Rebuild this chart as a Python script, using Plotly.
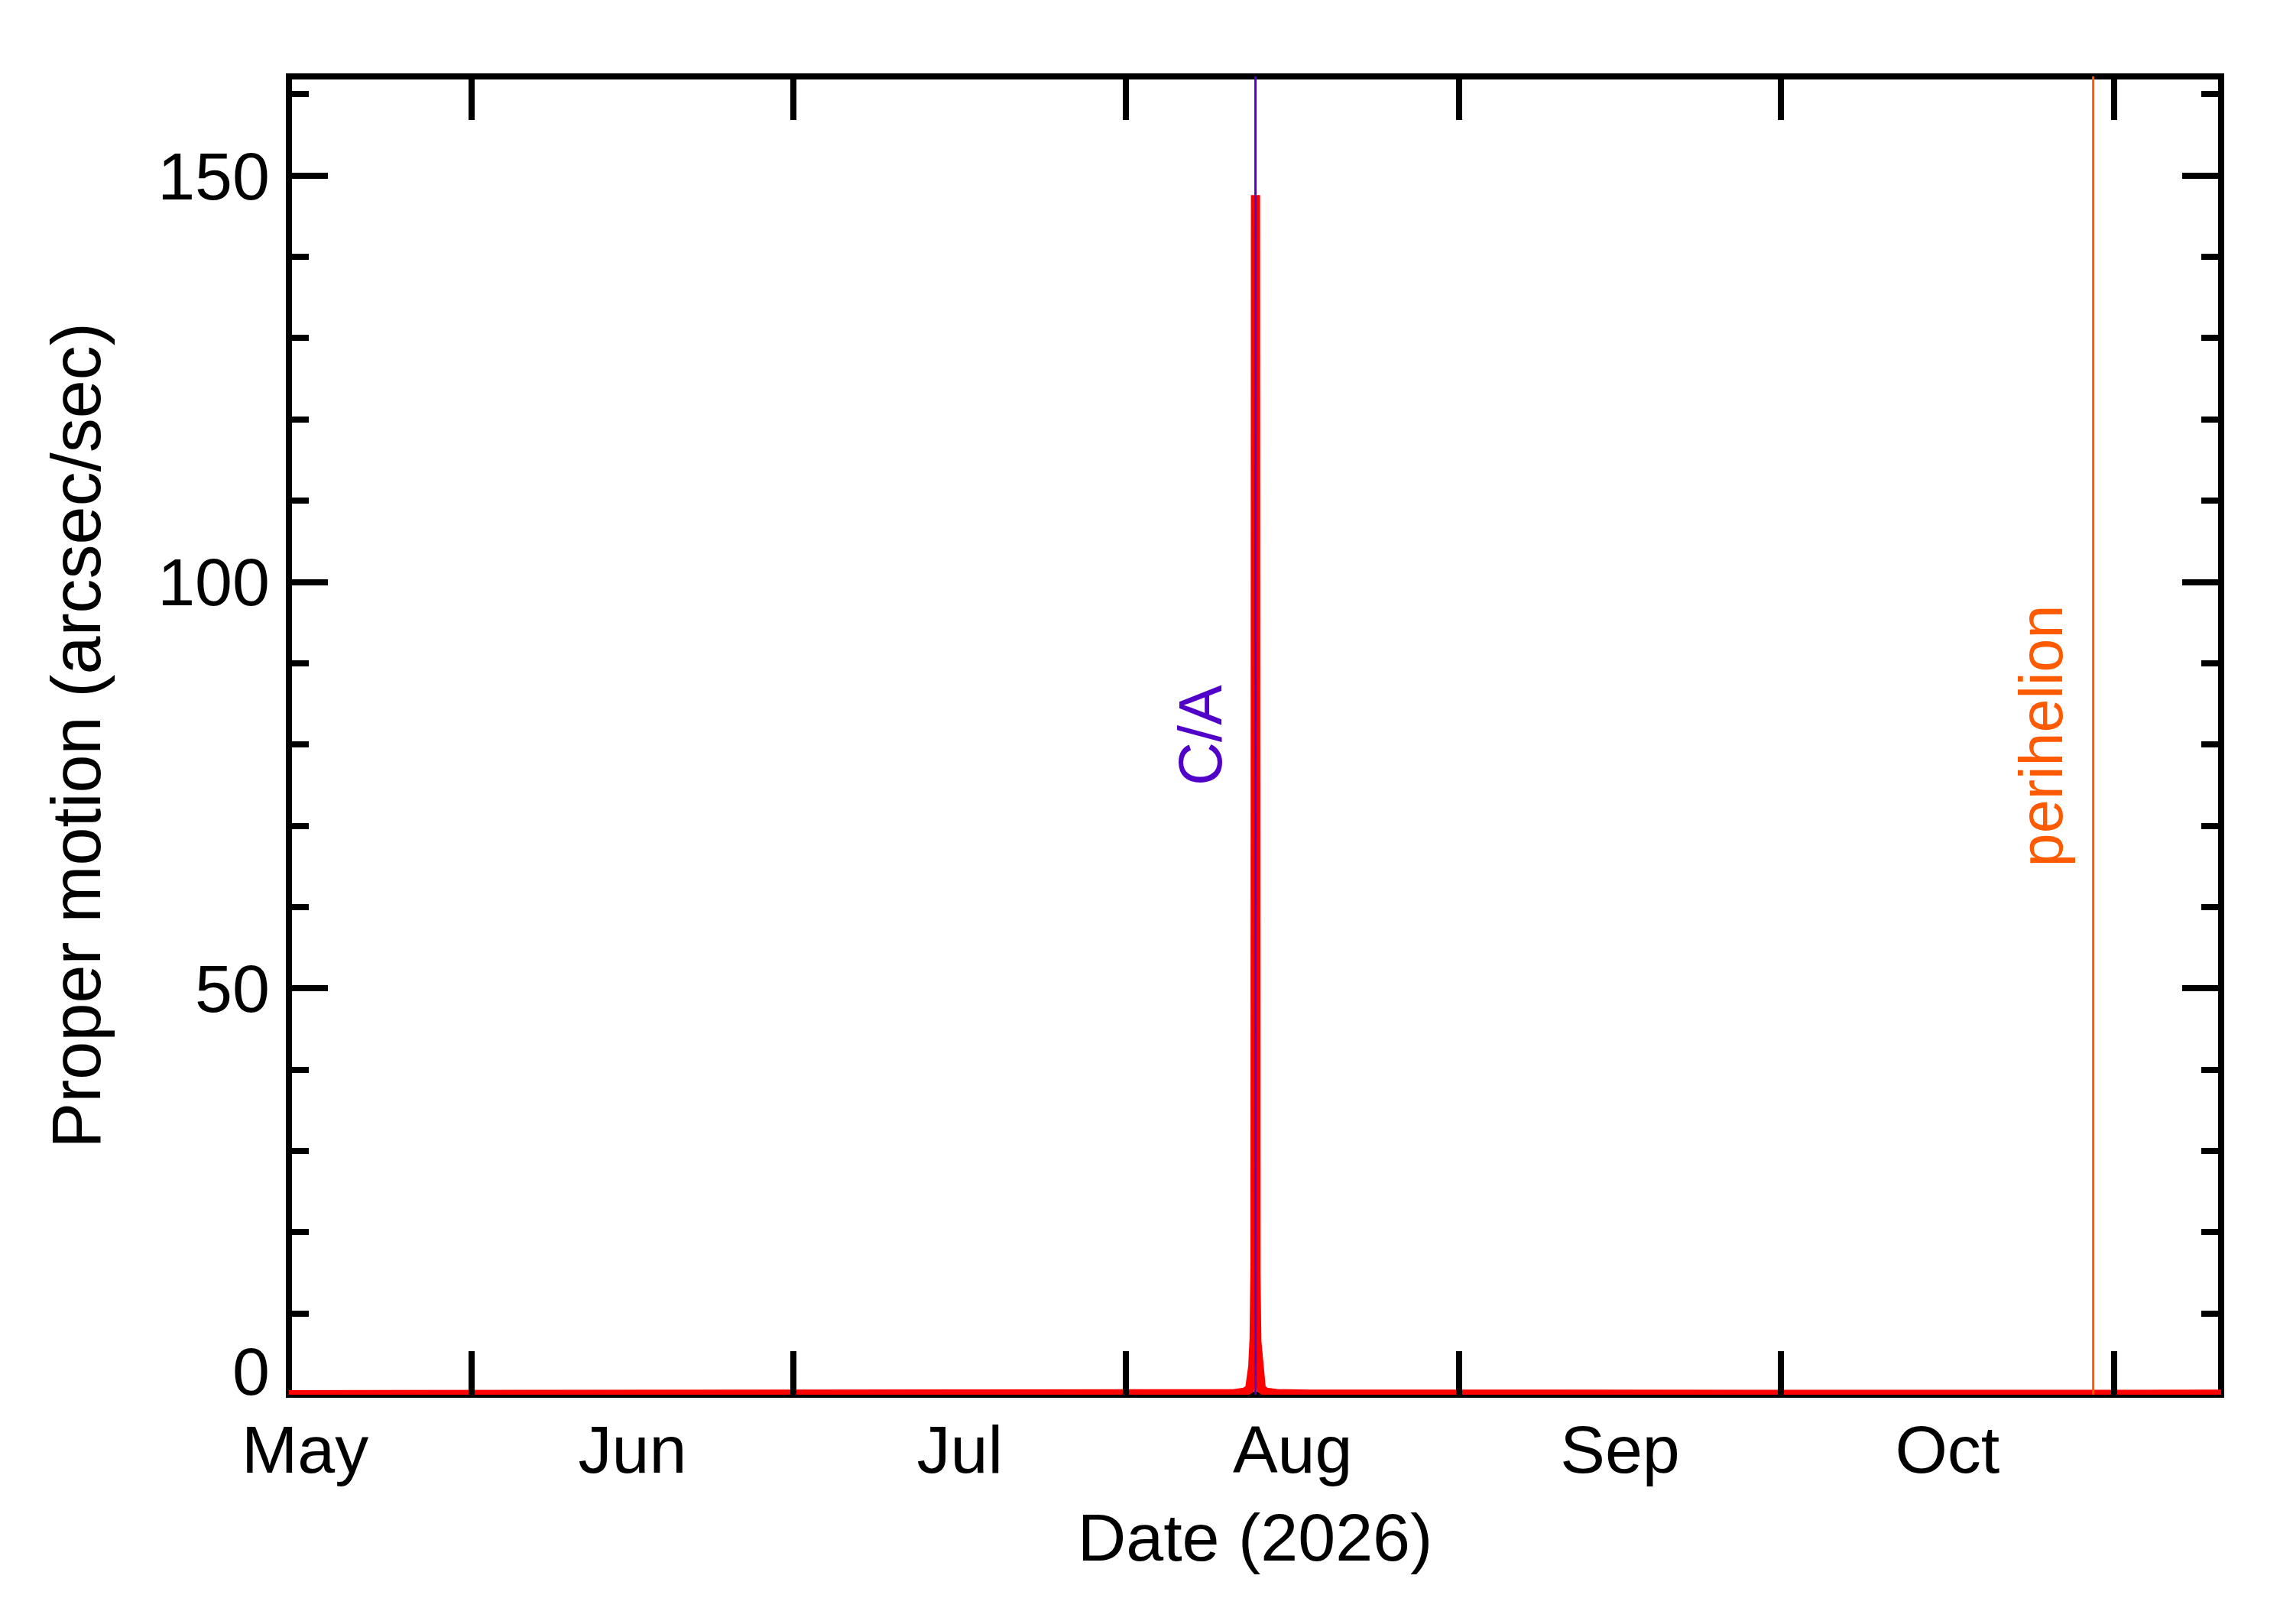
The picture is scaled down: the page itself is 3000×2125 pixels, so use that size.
import plotly.graph_objects as go

# proper motion samples (arcsec/sec)
dates = [
    "2026-05-15 00:00", "2026-06-15 00:00", "2026-07-15 00:00", "2026-08-01 00:00",
    "2026-08-08 00:00", "2026-08-11 00:00", "2026-08-12 00:00", "2026-08-12 12:00",
    "2026-08-12 19:00", "2026-08-12 22:00", "2026-08-13 00:00", "2026-08-13 00:30",
    "2026-08-13 01:00", "2026-08-13 01:30", "2026-08-13 02:00", "2026-08-13 04:00",
    "2026-08-13 07:00", "2026-08-13 14:00", "2026-08-14 01:00", "2026-08-15 00:00",
    "2026-08-18 00:00", "2026-08-25 00:00", "2026-09-15 00:00", "2026-10-15 00:00",
    "2026-11-11 00:00",
]
motion = [
    0.01, 0.01, 0.02, 0.03,
    0.05, 0.12, 0.3, 0.7,
    3.5, 7.0, 16.5, 32.6,
    147.6, 30.8, 15.0, 6.6,
    3.3, 0.7, 0.3, 0.15,
    0.08, 0.05, 0.04, 0.05,
    0.06,
]

ca_date = "2026-08-13 01:00"
perihelion_date = "2026-10-30 02:00"
x_range = ["2026-05-15 00:00", "2026-11-11 00:00"]
y_range = [0, 162.2]

# tick label spots (the "0" sits a little above its tick, as in the original)
ylabel_vals = [2.9, 50, 100, 150]
ylabel_text = ["0", "50", "100", "150"]

FONT = "Liberation Sans"
ca_color = "#5000C8"
peri_color = "#FF5A00"

fig = go.Figure()
fig.add_trace(go.Scatter(x=dates, y=motion, mode="lines",
                         line=dict(color="#FF0000", width=12),
                         showlegend=False, hoverinfo="skip"))
# empty trace so the label axis (y2) gets drawn
fig.add_trace(go.Scatter(x=[], y=[], yaxis="y2", showlegend=False, hoverinfo="skip"))

# frame drawn centered on the plot edge, like the original
fig.add_shape(type="rect", xref="paper", yref="paper", x0=0, x1=1, y0=0, y1=1,
              line=dict(color="black", width=8), layer="below")

fig.add_shape(type="line", xref="x", yref="paper", x0=ca_date, x1=ca_date, y0=0, y1=1,
              line=dict(color=ca_color, width=3))
fig.add_shape(type="line", xref="x", yref="paper", x0=perihelion_date, x1=perihelion_date,
              y0=0, y1=1, line=dict(color=peri_color, width=3))

fig.add_annotation(x=ca_date, xref="x", y=0.5, yref="paper", text="C/A", textangle=-90,
                   showarrow=False, xshift=-72, font=dict(family=FONT, size=79, color=ca_color))
fig.add_annotation(x=perihelion_date, xref="x", y=0.5, yref="paper", text="perihelion",
                   textangle=-90, showarrow=False, xshift=-68,
                   font=dict(family=FONT, size=79, color=peri_color))

# page body adds 8px offset, margins compensate
fig.update_layout(
    width=3000, height=2125,
    margin=dict(l=370, r=102, t=92, b=308),
    paper_bgcolor="white", plot_bgcolor="white",
    font=dict(family=FONT, size=88, color="black"),
    xaxis=dict(
        type="date", range=x_range,
        tick0="2026-05-01", dtick="M1", tickformat="%b", ticklabelmode="period",
        ticks="inside", ticklen=57, tickwidth=8, tickcolor="black", mirror="ticks",
        showgrid=False, zeroline=False, showline=False,
        tickfont=dict(family=FONT, size=88), ticklabelstandoff=13,
        title=dict(text="Date (2026)", font=dict(family=FONT, size=88), standoff=35),
    ),
    yaxis=dict(
        range=y_range, dtick=50, tick0=0,
        ticks="inside", ticklen=51, tickwidth=8, tickcolor="black", mirror="ticks",
        minor=dict(dtick=10, ticks="inside", ticklen=26, tickwidth=8, tickcolor="black"),
        showticklabels=False,
        showgrid=False, zeroline=False, showline=False,
    ),
    yaxis2=dict(
        overlaying="y", side="left", anchor="x", range=y_range,
        tickvals=ylabel_vals, ticktext=ylabel_text, ticks="",
        showgrid=False, zeroline=False, showline=False,
        tickfont=dict(family=FONT, size=88), ticklabelstandoff=24,
        title=dict(text="Proper motion (arcsec/sec)", font=dict(family=FONT, size=90), standoff=44),
    ),
)

fig.write_html("out.html")
